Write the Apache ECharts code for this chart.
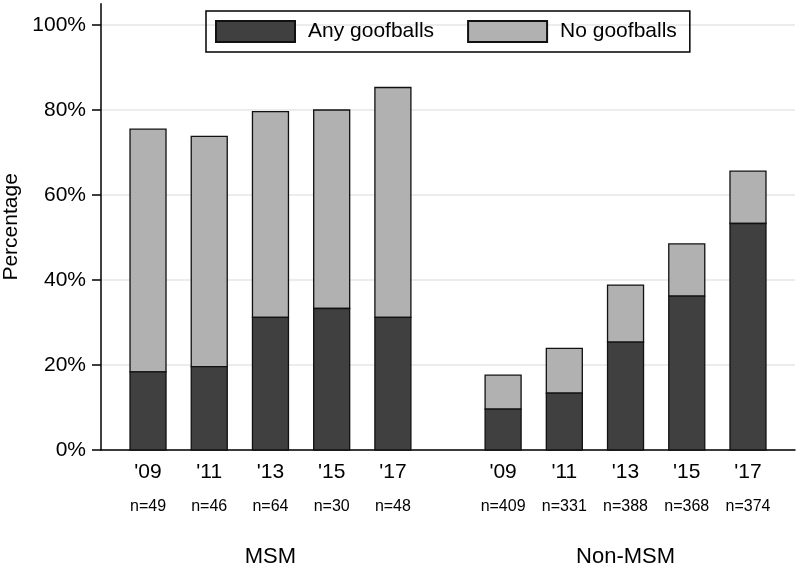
<!DOCTYPE html>
<html>
<head>
<meta charset="utf-8">
<script src="https://cdn.jsdelivr.net/npm/echarts@6/dist/echarts.min.js"></script>
<style>html,body{margin:0;padding:0;background:#fff}#c{width:800px;height:569px}</style>
</head>
<body>
<div id="c"></div>
<script>
// ---- data ----
var groups = ['MSM', 'Non-MSM'];
var years = ["'09", "'11", "'13", "'15", "'17"];
var sampleSizes = [
  ['n=49', 'n=46', 'n=64', 'n=30', 'n=48'],
  ['n=409', 'n=331', 'n=388', 'n=368', 'n=374']
];
var anyGoofballs = [
  [18.4, 19.6, 31.2, 33.3, 31.2],
  [9.6, 13.4, 25.4, 36.2, 53.3]
];
var noGoofballs = [
  [57.1, 54.2, 48.4, 46.7, 54.1],
  [8.0, 10.5, 13.4, 12.3, 12.3]
];
var yTicks = [0, 20, 40, 60, 80, 100];
var groupGap = 1.8;

// ---- build ----
var xPos = [], xYear = {}, xN = {}, anyData = [], noData = [], groupCenters = [], groupNames = {};
groups.forEach(function (g, gi) {
  var start = gi * (years.length - 1 + groupGap);
  years.forEach(function (y, yi) {
    var p = +(start + yi).toFixed(2);
    var a = anyGoofballs[gi][yi], n = noGoofballs[gi][yi];
    xPos.push(p);
    xYear[p] = y;
    xN[p] = sampleSizes[gi][yi];
    anyData.push([p, 0, a]);          // stacked segment: [x, base, top]
    noData.push([p, a, +(a + n).toFixed(2)]);
  });
  var c = +(start + (years.length - 1) / 2).toFixed(2);
  groupCenters.push(c);
  groupNames[c] = g;
});
var xMin = -0.768, xMax = 10.568;
var BAR_W = 36;
var font = 'Liberation Sans';

function renderBar(params, api) {
  var x = api.value(0);
  var p0 = api.coord([x, api.value(1)]);
  var p1 = api.coord([x, api.value(2)]);
  return {
    type: 'rect',
    shape: { x: p0[0] - BAR_W / 2, y: p1[1], width: BAR_W, height: p0[1] - p1[1] },
    style: api.style()
  };
}

function xAx(values, map, margin, size, showLine) {
  return {
    type: 'value', min: xMin, max: xMax, position: 'bottom',
    axisLine: { show: showLine, onZero: false, lineStyle: { color: '#000', width: 1.5 } },
    axisTick: { show: false },
    splitLine: { show: false },
    axisLabel: {
      customValues: values, margin: margin, color: '#000',
      fontFamily: font, fontSize: size,
      formatter: function (v) { return map[+v.toFixed(2)] || ''; }
    }
  };
}

var chart = echarts.init(document.getElementById('c'), null, { renderer: 'canvas' });
chart.setOption({
  animation: false,
  backgroundColor: '#fff',
  grid: { left: 101, right: 5, top: 3.75, bottom: 119, containLabel: false, outerBoundsMode: 'none' },
  legend: {
    left: 206, top: 11,
    padding: [9, 13, 9, 9],
    borderColor: '#000', borderWidth: 1.5,
    itemWidth: 79, itemHeight: 21, itemGap: 33,
    icon: 'rect',
    textStyle: { fontFamily: font, fontSize: 21, color: '#000', padding: [0, 0, 0, 8] },
    data: ['Any goofballs', 'No goofballs']
  },
  xAxis: [
    xAx(xPos, xYear, 12, 21, true),
    xAx(xPos, xN, 49, 16, false),
    xAx(groupCenters, groupNames, 96, 22, false)
  ],
  yAxis: {
    type: 'value', min: 0, max: 105,
    name: 'Percentage', nameLocation: 'middle', nameGap: 73.5,
    nameTextStyle: { fontFamily: font, fontSize: 21, color: '#000' },
    axisLine: { show: true, onZero: false, lineStyle: { color: '#000', width: 1.5 } },
    axisTick: { show: true, length: 9, customValues: yTicks, lineStyle: { color: '#000', width: 1.5 } },
    axisLabel: { customValues: yTicks, margin: 15, color: '#000', fontFamily: font, fontSize: 21,
      formatter: function (v) { return v + '%'; } },
    splitLine: { show: true, lineStyle: { color: '#e6e6e6', width: 1.5 } }
  },
  series: [
    { name: 'Any goofballs', type: 'custom', xAxisIndex: 0, renderItem: renderBar, z: 3,
      encode: { x: 0, y: [1, 2] },
      itemStyle: { color: '#404040', borderColor: '#111', borderWidth: 1.3 }, data: anyData },
    { name: 'No goofballs', type: 'custom', xAxisIndex: 0, renderItem: renderBar, z: 2,
      encode: { x: 0, y: [1, 2] },
      itemStyle: { color: '#b1b1b1', borderColor: '#111', borderWidth: 1.3 }, data: noData }
  ]
});
</script>
</body>
</html>
